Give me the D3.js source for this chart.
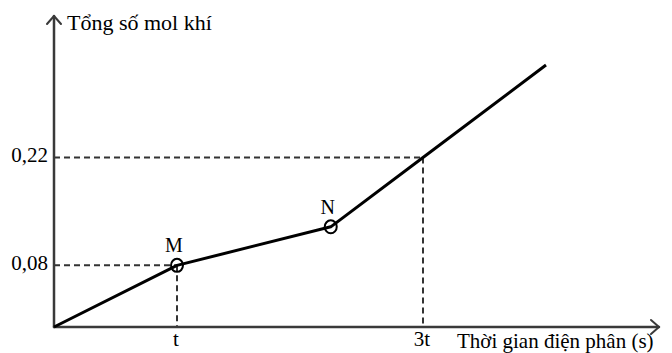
<!DOCTYPE html>
<html>
<head>
<meta charset="utf-8">
<script src="https://cdn.jsdelivr.net/npm/d3@7"></script>
<style>
  html, body { margin: 0; padding: 0; background: #fff; }
  svg { display: block; }
  text { font-family: "Liberation Serif", "Times New Roman", serif; fill: #000; }
</style>
</head>
<body>
<svg id="chart" width="672" height="353"></svg>
<script>
// ---- data ----
const timeValues = [0, 1, 2.25, 3, 4];          // in units of t
const molValues  = [0, 0.08, 0.13, 0.22, 0.34]; // total mol of gas
const xTickValues = [1, 3];
const xTickLabels = ["t", "3t"];
const yTickValues = [0.08, 0.22];
const yTickLabels = ["0,08", "0,22"];
const markerNames = ["M", "N"];
const markerIndex = [1, 2];
const guideIndex  = [1, 3];
const yTitle = "Tổng số mol khí";
const xTitle = "Thời gian điện phân (s)";

// ---- layout ----
const svg = d3.select("#chart");
const x = d3.scaleLinear().domain([0, 4]).range([54, 546]);
const y = d3.scaleLinear().domain([0, 0.34]).range([327, 65]);
const axisColor = "#3a3a3a";
const x0 = x(0), y0 = y(0);
const yTop = 16, xRight = 659;

// dashed guides
const guides = svg.append("g")
  .attr("stroke", "#333").attr("stroke-width", 2)
  .attr("stroke-dasharray", "6,4").attr("fill", "none");
guideIndex.forEach(i => {
  guides.append("line")
    .attr("x1", x0).attr("y1", y(molValues[i]))
    .attr("x2", x(timeValues[i])).attr("y2", y(molValues[i]));
  guides.append("line")
    .attr("x1", x(timeValues[i])).attr("y1", y(molValues[i]))
    .attr("x2", x(timeValues[i])).attr("y2", y0);
});

// axes
const ax = svg.append("g").attr("stroke", axisColor).attr("stroke-width", 2.5)
  .attr("fill", "none").attr("stroke-linecap", "round").attr("stroke-linejoin", "round");
ax.append("line").attr("x1", x0).attr("y1", y0).attr("x2", x0).attr("y2", yTop);
ax.append("line").attr("x1", x0).attr("y1", y0).attr("x2", xRight).attr("y2", y0);
ax.append("path").attr("d", `M${x0-7},${yTop+8} L${x0},${yTop} L${x0+7},${yTop+8}`).attr("stroke-width", 2);
ax.append("path").attr("d", `M${xRight-8},${y0-7} L${xRight},${y0} L${xRight-8},${y0+7}`).attr("stroke-width", 2);

// the line
const line = d3.line().x((d, i) => x(timeValues[i])).y(d => y(d));
svg.append("path").datum(molValues)
  .attr("d", line)
  .attr("fill", "none").attr("stroke", "#000").attr("stroke-width", 3)
  .attr("stroke-linejoin", "round");

// markers
markerIndex.forEach((i, k) => {
  const cx = x(timeValues[i]), cy = y(molValues[i]);
  svg.append("ellipse").attr("cx", cx).attr("cy", cy).attr("rx", 6).attr("ry", 6.5)
    .attr("fill", "none").attr("stroke", "#000").attr("stroke-width", 2);
  svg.append("text").attr("x", cx - 3).attr("y", cy - 13)
    .attr("text-anchor", "middle").attr("font-size", 20).text(markerNames[k]);
});

// tick labels
yTickValues.forEach((v, i) => {
  svg.append("text").attr("x", 48).attr("y", y(v) + 5)
    .attr("text-anchor", "end").attr("font-size", 21).text(yTickLabels[i]);
});
xTickValues.forEach((v, i) => {
  svg.append("text").attr("x", x(v) - 1).attr("y", 346)
    .attr("text-anchor", "middle").attr("font-size", 21).text(xTickLabels[i]);
});

// titles
svg.append("text").attr("x", 67).attr("y", 30).attr("font-size", 22).text(yTitle);
svg.append("text").attr("x", 457).attr("y", 348).attr("font-size", 21).text(xTitle);
</script>
</body>
</html>
